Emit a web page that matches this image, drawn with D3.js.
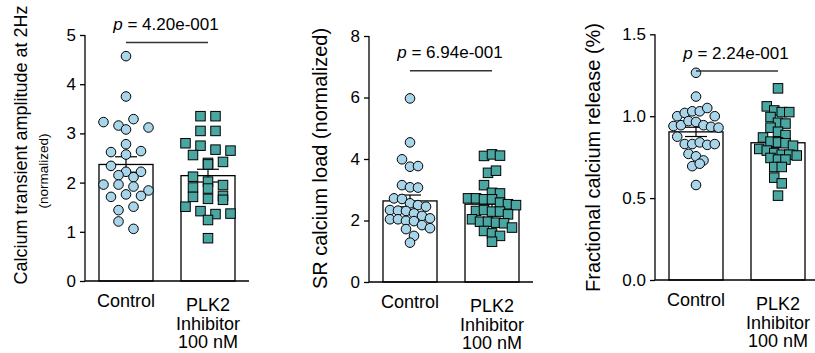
<!DOCTYPE html>
<html>
<head>
<meta charset="utf-8">
<script src="https://cdn.jsdelivr.net/npm/d3@7"></script>
<style>
  body { margin: 0; background: #fff; }
  text { font-family: "Liberation Sans", Arial, sans-serif; fill: #000; }
</style>
</head>
<body>
<div id="chart"></div>
<script>
// Group labels (second one is drawn on three lines)
const groups = ['Control', 'PLK2 Inhibitor 100 nM'];
const groupLines = [['Control'], ['PLK2', 'Inhibitor', '100 nM']];

// Calcium transient amplitude at 2Hz (normalized)
const ampControl = [4.57, 3.75, 3.23, 3.16, 3.29, 3.08, 3.12, 2.62, 2.78, 2.57, 2.64, 2.34, 2.22, 2.22,
  2.15, 2.11, 1.96, 1.96, 1.92, 1.84, 1.71, 1.76, 1.73, 1.44, 1.51, 1.21, 1.06];
const ampPlk2 = [3.35, 3.35, 3.05, 3.05, 2.80, 2.75, 2.67, 2.65, 2.56, 2.40, 2.42, 2.37, 2.12, 2.02,
  1.95, 1.90, 1.88, 1.73, 1.71, 1.67, 1.65, 1.51, 1.42, 1.36, 1.37, 1.24, 0.87];

// SR calcium load (normalized)
const loadControl = [5.97, 4.54, 3.99, 3.75, 3.77, 3.15, 3.08, 3.07, 2.72, 2.70, 2.56, 2.50, 2.45, 2.34,
  2.32, 2.31, 2.23, 2.15, 2.07, 2.04, 2.04, 1.99, 1.98, 1.85, 1.75, 1.72, 1.50, 1.28];
const loadPlk2 = [4.10, 4.15, 4.11, 3.55, 3.62, 3.15, 2.90, 2.88, 2.72, 2.72, 2.69, 2.69, 2.58, 2.53, 2.50,
  2.31, 2.34, 2.29, 2.29, 2.20, 2.04, 1.96, 1.96, 1.93, 1.91, 1.77, 1.66, 1.58, 1.50, 1.31];

// Fractional calcium release
const releaseControl = [1.265, 1.12, 1.00, 1.02, 1.03, 1.03, 1.05, 1.00, 0.94, 0.945, 0.97, 0.965, 0.945,
  0.935, 0.93, 0.875, 0.83, 0.83, 0.84, 0.825, 0.83, 0.77, 0.755, 0.73, 0.695, 0.71, 0.58];
const releasePlk2 = [1.17, 1.06, 1.035, 1.025, 1.025, 0.995, 0.96, 0.955, 0.93, 0.905, 0.885, 0.87, 0.845,
  0.84, 0.835, 0.82, 0.80, 0.79, 0.775, 0.765, 0.765, 0.76, 0.745, 0.735, 0.735, 0.69, 0.69, 0.625, 0.59, 0.515];

// p values shown above each pair
const pValues = ['4.20e-001', '6.94e-001', '2.24e-001'];

// Tick labels
const ampTicks = [0, 1, 2, 3, 4, 5];
const loadTicks = [0, 2, 4, 6, 8];
const releaseTicks = [0, 0.5, 1.0, 1.5];

const width = 815;
const height = 353;
const circleFill = '#a9d5ea';
const squareFill = '#4aa6a1';

const svg = d3.select('#chart')
  .append('svg')
  .attr('width', width)
  .attr('height', height);

// Panel settings (layout only)
const panels = [
  {
    left: 85, top: 35, bottom: 281, ticks: ampTicks, fmt: d3.format('d'),
    data: [ampControl, ampPlk2], p: pValues[0], lineY: 42.5,
    title: 'Calcium transient amplitude at 2Hz', titleSize: 18, titleX: 27, titleY: 145,
    sub: '(normalized)', subX: 48, subY: 171, spacing: 15, rowH: 9
  },
  {
    left: 369, top: 36, bottom: 282, ticks: loadTicks, fmt: d3.format('d'),
    data: [loadControl, loadPlk2], p: pValues[1], lineY: 70.7,
    title: 'SR calcium load (normalized)', titleSize: 20, titleX: 327, titleY: 158.5,
    spacing: 8, rowH: 9
  },
  {
    left: 655, top: 34.3, bottom: 280, ticks: releaseTicks, fmt: d3.format('.1f'),
    data: [releaseControl, releasePlk2], p: pValues[2], lineY: 71,
    title: 'Fractional calcium release (%)', titleSize: 20, titleX: 600, titleY: 157.5,
    spacing: 7.5, rowH: 9
  }
];

// Points that sit within rowH pixels of each other share a row and are spread out side by side
function rowLayout(values, y, spacing, rowH) {
  const order = d3.range(values.length).sort((a, b) => values[b] - values[a]);
  const rows = [];
  order.forEach(i => {
    const yi = y(values[i]);
    const last = rows[rows.length - 1];
    if (last && yi - last.y0 <= rowH) last.idx.push(i);
    else rows.push({ y0: yi, idx: [i] });
  });
  const xs = new Array(values.length);
  rows.forEach(r => {
    r.idx.sort((a, b) => a - b);
    const n = r.idx.length;
    r.idx.forEach((i, k) => { xs[i] = (k - (n - 1) / 2) * spacing; });
  });
  return xs;
}

panels.forEach(cfg => {
  const g = svg.append('g');

  const x = d3.scalePoint()
    .domain(groups)
    .range([cfg.left, cfg.left + 164])
    .padding(0.5);

  const y = d3.scaleLinear()
    .domain([0, d3.max(cfg.ticks)])
    .range([cfg.bottom, cfg.top]);

  const barW = 54;

  const stats = cfg.data.map((vals, i) => {
    const m = d3.mean(vals);
    const sem = d3.deviation(vals) / Math.sqrt(vals.length);
    return { group: groups[i], mean: m, sem: sem, vals: vals, i: i };
  });

  // Bars
  g.selectAll('rect.bar')
    .data(stats)
    .enter()
    .append('rect')
    .attr('class', 'bar')
    .attr('x', d => x(d.group) - barW / 2)
    .attr('y', d => y(d.mean))
    .attr('width', barW)
    .attr('height', d => y(0) - y(d.mean))
    .attr('fill', '#fff')
    .attr('stroke', '#000')
    .attr('stroke-width', 1.3);

  // Error bars (mean +/- SEM)
  const cap = 22;
  const err = g.selectAll('g.err')
    .data(stats)
    .enter()
    .append('g')
    .attr('class', 'err')
    .attr('stroke', '#000')
    .attr('stroke-width', 1.2);
  err.append('line')
    .attr('x1', d => x(d.group)).attr('x2', d => x(d.group))
    .attr('y1', d => y(d.mean + d.sem)).attr('y2', d => y(d.mean - d.sem));
  err.append('line')
    .attr('x1', d => x(d.group) - cap / 2).attr('x2', d => x(d.group) + cap / 2)
    .attr('y1', d => y(d.mean + d.sem)).attr('y2', d => y(d.mean + d.sem));
  err.append('line')
    .attr('x1', d => x(d.group) - cap / 2).attr('x2', d => x(d.group) + cap / 2)
    .attr('y1', d => y(d.mean - d.sem)).attr('y2', d => y(d.mean - d.sem));

  // Points
  stats.forEach(s => {
    const offs = rowLayout(s.vals, y, cfg.spacing, cfg.rowH);
    const pts = s.vals.map((v, j) => ({ v: v, dx: offs[j] }));
    if (s.i === 0) {
      g.selectAll(null)
        .data(pts)
        .enter()
        .append('circle')
        .attr('cx', d => x(s.group) + d.dx)
        .attr('cy', d => y(d.v))
        .attr('r', 4.8)
        .attr('fill', circleFill)
        .attr('stroke', '#000')
        .attr('stroke-width', 1);
    } else {
      const side = 9.5;
      g.selectAll(null)
        .data(pts)
        .enter()
        .append('rect')
        .attr('x', d => x(s.group) + d.dx - side / 2)
        .attr('y', d => y(d.v) - side / 2)
        .attr('width', side)
        .attr('height', side)
        .attr('fill', squareFill)
        .attr('stroke', '#000')
        .attr('stroke-width', 1);
    }
  });

  // Y axis
  const yAxis = g.append('g')
    .attr('transform', 'translate(' + cfg.left + ',0)')
    .call(d3.axisLeft(y).tickValues(cfg.ticks).tickFormat(cfg.fmt).tickSize(5).tickPadding(4));
  yAxis.select('.domain').attr('stroke-width', 1.3).attr('d', 'M0,' + y(d3.max(cfg.ticks)) + 'V' + y(0));
  yAxis.selectAll('.tick line').attr('stroke-width', 1.3);
  yAxis.selectAll('.tick text')
    .style('font-family', '"Liberation Sans", Arial, sans-serif')
    .style('font-size', '17px');

  // X axis line
  g.append('line')
    .attr('x1', cfg.left).attr('x2', cfg.left + 164)
    .attr('y1', y(0)).attr('y2', y(0))
    .attr('stroke', '#000')
    .attr('stroke-width', 1.3);

  // Category labels
  groups.forEach((grp, i) => {
    const lines = groupLines[i];
    const base = lines.length === 1 ? y(0) + 25.5 : y(0) + 30;
    const t = g.append('text')
      .attr('text-anchor', 'middle')
      .style('font-size', '18px');
    lines.forEach((ln, k) => {
      t.append('tspan')
        .attr('x', x(grp))
        .attr('y', base + k * 18.7)
        .text(ln);
    });
  });

  // Significance line and p value
  const x1 = x(groups[0]);
  const x2 = x(groups[1]);
  g.append('line')
    .attr('x1', x1).attr('x2', x2)
    .attr('y1', cfg.lineY).attr('y2', cfg.lineY)
    .attr('stroke', '#333')
    .attr('stroke-width', 1.5);
  const pt = g.append('text')
    .attr('x', (x1 + x2) / 2 - 1)
    .attr('y', cfg.lineY - 12.5)
    .attr('text-anchor', 'middle')
    .style('font-size', '17px');
  pt.append('tspan').style('font-style', 'italic').text('p');
  pt.append('tspan').text(' = ' + cfg.p);

  // Y axis title
  g.append('text')
    .attr('transform', 'translate(' + cfg.titleX + ',' + cfg.titleY + ') rotate(-90)')
    .attr('text-anchor', 'middle')
    .style('font-size', cfg.titleSize + 'px')
    .text(cfg.title);
  if (cfg.sub) {
    g.append('text')
      .attr('transform', 'translate(' + cfg.subX + ',' + cfg.subY + ') rotate(-90)')
      .attr('text-anchor', 'middle')
      .style('font-size', '13.5px')
      .text(cfg.sub);
  }
});
</script>
</body>
</html>
